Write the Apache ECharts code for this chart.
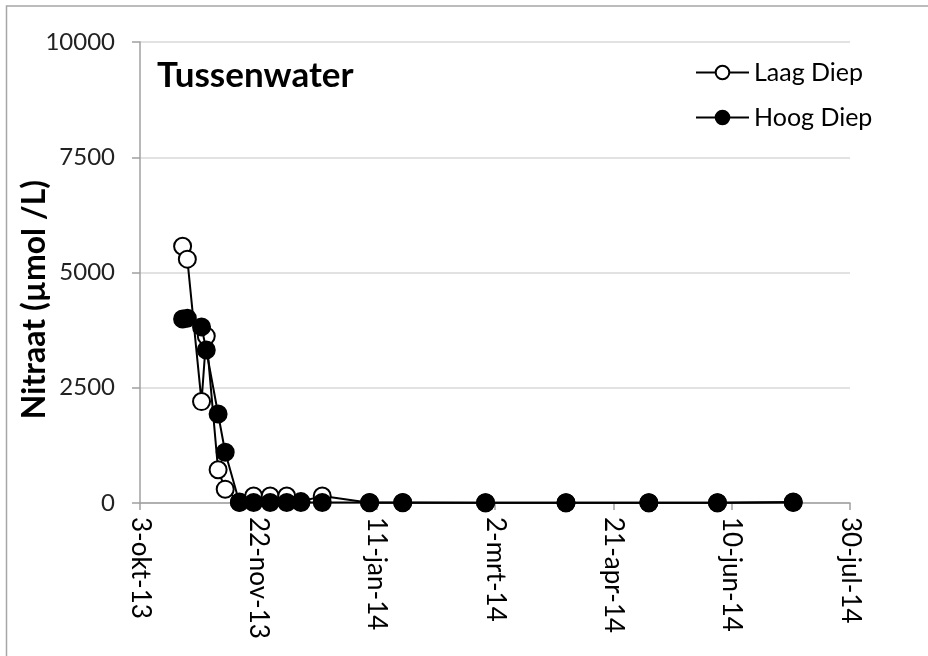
<!DOCTYPE html>
<html>
<head>
<meta charset="utf-8">
<script src="https://cdn.jsdelivr.net/npm/echarts@6/dist/echarts.min.js"></script>
<style>
  html, body { margin: 0; padding: 0; background: #fff; }
  #chart { width: 928px; height: 656px; }
</style>
</head>
<body>
<div id="chart"></div>
<script>
// start of the x axis (3-okt-13); x values are days from this date
const startDate = '2013-10-03'

const dates = [
  '2013-10-21', '2013-10-23', '2013-10-29', '2013-10-31', '2013-11-05', '2013-11-08',
  '2013-11-14', '2013-11-20', '2013-11-27', '2013-12-04', '2013-12-10', '2013-12-19',
  '2014-01-08', '2014-01-22', '2014-02-26', '2014-04-01', '2014-05-06', '2014-06-04', '2014-07-06'
]
const laagDiep = [5570, 5290, 2200, 3620, 720, 300, 20, 150, 150, 150, 30, 150, 5, 5, 5, 5, 5, 5, 10]
const hoogDiep = [3990, 4010, 3820, 3320, 1930, 1100, 10, 10, 10, 10, 10, 10, 10, 10, 5, 5, 5, 5, 20]

const xTickLabels = ['3-okt-13', '22-nov-13', '11-jan-14', '2-mrt-14', '21-apr-14', '10-jun-14', '30-jul-14']

const font = 'Lato'
const dayMs = 86400000
const toDay = d => (Date.parse(d) - Date.parse(startDate)) / dayMs

let chart = echarts.init(document.getElementById('chart'))

let option = {
  animation: false,
  backgroundColor: '#fff',
  graphic: [
    {
      type: 'rect',
      shape: { x: 6.5, y: 6, width: 1000, height: 1000 },
      style: { fill: 'none', stroke: '#a6a6a6', lineWidth: 1.5 }
    }
  ],
  title: {
    text: 'Tussenwater',
    left: 157,
    top: 58,
    padding: 0,
    textStyle: { fontFamily: font, fontSize: 35, fontWeight: 'bold', color: '#000' }
  },
  legend: {
    orient: 'vertical',
    left: 690,
    top: 55,
    itemWidth: 53,
    itemHeight: 17,
    itemGap: 20,
    textStyle: { fontFamily: font, fontSize: 25, color: '#000' },
    data: ['Laag Diep', 'Hoog Diep']
  },
  grid: {
    left: 140,
    right: 78,
    top: 42,
    bottom: 153,
    outerBoundsMode: 'none'
  },
  xAxis: {
    type: 'value',
    min: 0,
    max: 300,
    interval: 50,
    splitLine: { show: false },
    axisLine: { lineStyle: { color: '#a0a0a0', width: 1.5 } },
    axisTick: { show: true, length: 7, lineStyle: { color: '#a0a0a0', width: 1.5 } },
    axisLabel: {
      rotate: -90,
      margin: 14,
      fontFamily: font,
      fontSize: 26,
      color: '#000',
      formatter: v => xTickLabels[Math.round(v / 50)]
    }
  },
  yAxis: {
    type: 'value',
    min: 0,
    max: 10000,
    interval: 2500,
    name: 'Nitraat (µmol /L)',
    nameLocation: 'middle',
    nameGap: 89,
    nameMoveOverlap: false,
    nameTextStyle: {
      fontFamily: font, fontSize: 32, fontWeight: 'bold', color: '#000',
      padding: [0, 54, 0, 0]
    },
    splitLine: { lineStyle: { color: '#d9d9d9', width: 1.5 } },
    axisLine: { show: true, lineStyle: { color: '#a0a0a0', width: 1.5 } },
    axisTick: { show: true, length: 8, lineStyle: { color: '#a0a0a0', width: 1.5 } },
    axisLabel: { margin: 25, fontFamily: font, fontSize: 24, color: '#222', formatter: v => String(v) }
  },
  series: [
    {
      name: 'Laag Diep',
      type: 'line',
      data: dates.map((d, i) => [toDay(d), laagDiep[i]]),
      symbol: 'circle',
      symbolSize: 17,
      clip: false,
      z: 2,
      lineStyle: { color: '#000', width: 2 },
      itemStyle: { color: '#fff', borderColor: '#000', borderWidth: 2 },
      emphasis: { disabled: true }
    },
    {
      name: 'Hoog Diep',
      type: 'line',
      data: dates.map((d, i) => [toDay(d), hoogDiep[i]]),
      symbol: 'circle',
      symbolSize: 17,
      clip: false,
      z: 3,
      lineStyle: { color: '#000', width: 2 },
      itemStyle: { color: '#000', borderColor: '#000', borderWidth: 2 },
      emphasis: { disabled: true }
    }
  ]
}

chart.setOption(option)
</script>
</body>
</html>
